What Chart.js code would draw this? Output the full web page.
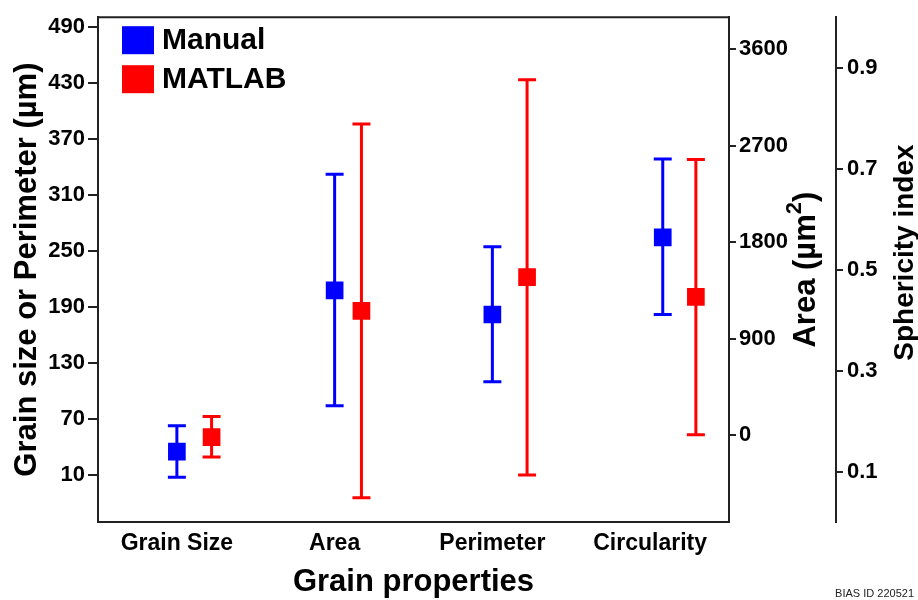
<!DOCTYPE html>
<html>
<head>
<meta charset="utf-8">
<script src="https://cdn.jsdelivr.net/npm/chart.js@4.4.0/dist/chart.umd.min.js"></script>
<style>
  html, body { margin: 0; padding: 0; background: #fff; }
  #wrap { width: 918px; height: 600px; }
</style>
</head>
<body>
<div id="wrap"><canvas id="myChart"></canvas></div>
<script>
const categories = ["Grain Size", "Area", "Perimeter", "Circularity"];
// each category is read against its own y axis
const categoryAxis = ["y", "yArea", "y", "ySph"];

const manualX = [1.0, 2.0, 3.0, 4.08];
const manualMean = [35.3, 1352, 182, 0.564];
const manualLow = [7.9, 276, 110, 0.411];
const manualHigh = [62.9, 2434, 254.5, 0.719];

const matlabX = [1.22, 2.17, 3.22, 4.29];
const matlabMean = [50.8, 1160, 222, 0.446];
const matlabLow = [29.5, -582, 10.3, 0.173];
const matlabHigh = [72.8, 2901, 433, 0.718];

const sizeTicks = [10, 70, 130, 190, 250, 310, 370, 430, 490];
const areaTicks = [0, 900, 1800, 2700, 3600];
const sphTicks = [0.1, 0.3, 0.5, 0.7, 0.9];

const series = [
  { label: "Manual", color: "#0000ff", x: manualX, mean: manualMean, low: manualLow, high: manualHigh },
  { label: "MATLAB", color: "#ff0000", x: matlabX, mean: matlabMean, low: matlabLow, high: matlabHigh },
];

const FONT = "'Liberation Sans', Arial, sans-serif";
const AXIS_COLOR = "#222";

// one dataset per series and category so each point can use its own axis
const datasets = [];
series.forEach((s) => {
  categories.forEach((c, i) => {
    datasets.push({
      label: s.label,
      data: [{ x: s.x[i], y: s.mean[i] }],
      yAxisID: categoryAxis[i],
      backgroundColor: s.color,
      borderColor: s.color,
      borderWidth: 0,
      pointStyle: "rect",
      pointRadius: 12.5,
      pointHoverRadius: 12.5,
      showLine: false,
    });
  });
});

//Error bars, drawn under the squares
const errorBars = {
  id: "errorBars",
  beforeDatasetsDraw(chart) {
    const ctx = chart.ctx;
    const xs = chart.scales.x;
    ctx.save();
    ctx.lineWidth = 3;
    series.forEach((s) => {
      ctx.strokeStyle = s.color;
      categories.forEach((c, i) => {
        const ys = chart.scales[categoryAxis[i]];
        const px = xs.getPixelForValue(s.x[i]);
        const top = ys.getPixelForValue(s.high[i]);
        const bot = ys.getPixelForValue(s.low[i]);
        ctx.beginPath();
        ctx.moveTo(px, top);
        ctx.lineTo(px, bot);
        ctx.moveTo(px - 9, top);
        ctx.lineTo(px + 9, top);
        ctx.moveTo(px - 9, bot);
        ctx.lineTo(px + 9, bot);
        ctx.stroke();
      });
    });
    ctx.restore();
  },
};

//Frame top, legend, right axis titles, id text
const extras = {
  id: "extras",
  afterDraw(chart) {
    const ctx = chart.ctx;
    const area = chart.chartArea;
    ctx.save();

    ctx.strokeStyle = AXIS_COLOR;
    ctx.lineWidth = 2;
    ctx.beginPath();
    ctx.moveTo(area.left - 1, area.top);
    ctx.lineTo(area.right + 1, area.top);
    ctx.stroke();

    // legend
    ctx.font = "bold 30px " + FONT;
    ctx.textAlign = "left";
    ctx.textBaseline = "middle";
    series.forEach((s, k) => {
      const y = area.top + 9 + k * 39;
      ctx.fillStyle = s.color;
      ctx.fillRect(area.left + 24, y, 32, 28);
      ctx.fillStyle = "#000";
      ctx.fillText(s.label, area.left + 64, y + 15);
    });

    // Area (µm²) title
    const midY = (area.top + area.bottom) / 2;
    const areaX = chart.scales.yArea.left + 86;
    ctx.translate(areaX, midY);
    ctx.rotate(-Math.PI / 2);
    ctx.textBaseline = "alphabetic";
    ctx.fillStyle = "#000";
    const mainFont = "bold 31px " + FONT;
    const supFont = "bold 22px " + FONT;
    ctx.font = mainFont;
    const w1 = ctx.measureText("Area (\u00b5m").width;
    const w3 = ctx.measureText(")").width;
    ctx.font = supFont;
    const w2 = ctx.measureText("2").width;
    let tx = -(w1 + w2 + w3) / 2;
    ctx.font = mainFont;
    ctx.fillText("Area (\u00b5m", tx, 0);
    tx += w1;
    ctx.font = supFont;
    ctx.fillText("2", tx, -14);
    tx += w2;
    ctx.font = mainFont;
    ctx.fillText(")", tx, 0);
    ctx.setTransform(1, 0, 0, 1, 0, 0);

    // Sphericity index title
    ctx.translate(chart.scales.ySph.left + 77, midY - 17);
    ctx.rotate(-Math.PI / 2);
    ctx.font = "bold 28px " + FONT;
    ctx.textAlign = "center";
    ctx.fillText("Sphericity index", 0, 0);
    ctx.setTransform(1, 0, 0, 1, 0, 0);

    ctx.font = "11px " + FONT;
    ctx.textAlign = "right";
    ctx.fillStyle = "#222";
    ctx.fillText("BIAS ID 220521", chart.width - 4, chart.height - 3);
    ctx.restore();
  },
};

function yAxis(ticksList, position, width, tickLength, padding, extra) {
  return Object.assign({
    type: "linear",
    position: position,
    afterBuildTicks: (scale) => {
      scale.ticks = ticksList.map((v) => ({ value: v }));
    },
    afterFit: (scale) => {
      scale.width = width;
    },
    grid: {
      display: true,
      drawOnChartArea: false,
      drawTicks: true,
      tickLength: tickLength,
      color: AXIS_COLOR,
      lineWidth: 2,
    },
    border: { display: true, color: AXIS_COLOR, width: 2 },
    ticks: {
      padding: padding,
      color: "#000",
      font: { family: FONT, size: 22, weight: "bold" },
      callback: (value) => String(value),
    },
  }, extra);
}

const config = {
  type: "scatter",
  data: { datasets },
  options: {
    responsive: false,
    animation: false,
    events: [],
    layout: { padding: { top: 15, left: 0, right: 0, bottom: 0 } },
    plugins: {
      legend: { display: false },
      tooltip: { enabled: false },
    },
    scales: {
      x: {
        type: "linear",
        position: "bottom",
        min: 0.5,
        max: 4.5,
        afterBuildTicks: (scale) => {
          scale.ticks = categories.map((c, i) => ({ value: i + 1 }));
        },
        afterFit: (scale) => {
          scale.height = 78;
        },
        grid: { display: true, drawOnChartArea: false, drawTicks: false },
        border: { display: true, color: AXIS_COLOR, width: 2 },
        ticks: {
          padding: 8,
          color: "#000",
          maxRotation: 0,
          font: { family: FONT, size: 23, weight: "bold" },
          callback: (value) => categories[Math.round(value) - 1] || "",
        },
        title: {
          display: true,
          text: "Grain properties",
          color: "#000",
          padding: { top: 0, bottom: 0 },
          font: { family: FONT, size: 31, weight: "bold", lineHeight: 1.15 },
        },
      },
      y: yAxis(sizeTicks, "left", 98, 10, 3, {
        min: -40,
        max: 500,
        title: {
          display: true,
          text: "Grain size or Perimeter (\u00b5m)",
          color: "#000",
          padding: { top: 9, bottom: 0 },
          font: { family: FONT, size: 31, weight: "bold" },
        },
      }),
      yArea: yAxis(areaTicks, "right", 107, 7, 3, { min: -807, max: 3897, weight: 0 }),
      ySph: yAxis(sphTicks, "right", 82, 7, 4, { min: 0, max: 1, weight: 1 }),
    },
  },
  plugins: [errorBars, extras],
};

const canvas = document.getElementById("myChart");
canvas.width = 918;
canvas.height = 600;
const myChart = new Chart(canvas.getContext("2d"), config);
</script>
</body>
</html>
